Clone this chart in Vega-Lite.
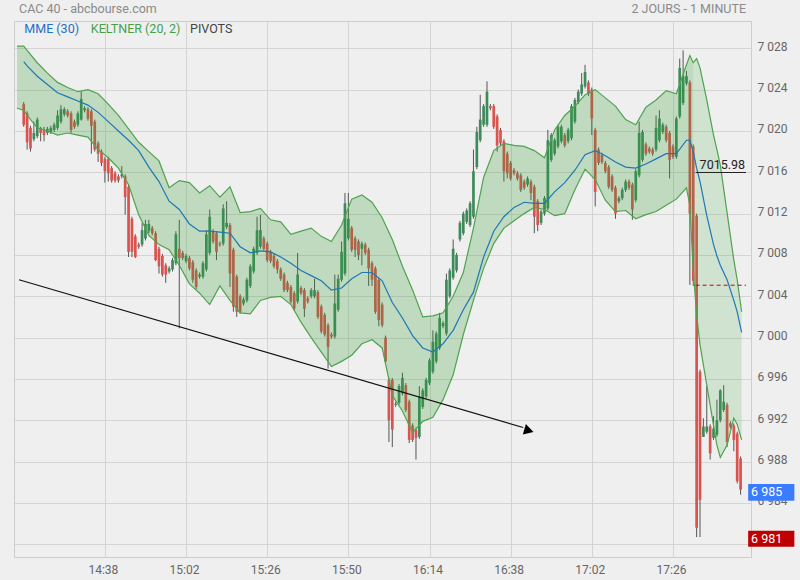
{
"$schema": "https://vega.github.io/schema/vega-lite/v6.json",
"width": 737, "height": 536,
"autosize": {"type": "none"},
"padding": {"left": 14, "top": 21, "right": 49, "bottom": 23},
"background": "#efefef",
"config": {"font": "Roboto", "view": {"stroke": "#cccccc", "strokeWidth": 1}},
"datasets": {
"candles": [
{"t":-24,"o":7022.6,"h":7022.8,"l":7020.4,"c":7020.6},
{"t":-23,"o":7021.7,"h":7021.9,"l":7018.2,"c":7018.9},
{"t":-22,"o":7020.3,"h":7020.5,"l":7018.0,"c":7018.3},
{"t":-21,"o":7019.2,"h":7020.9,"l":7019.0,"c":7019.8},
{"t":-20,"o":7019.5,"h":7021.3,"l":7019.3,"c":7021.1},
{"t":-19,"o":7020.3,"h":7020.4,"l":7019.0,"c":7019.8},
{"t":-18,"o":7020.1,"h":7020.4,"l":7019.0,"c":7019.6},
{"t":-17,"o":7019.8,"h":7020.4,"l":7019.6,"c":7020.2},
{"t":-16,"o":7019.9,"h":7020.5,"l":7019.7,"c":7020.3},
{"t":-15,"o":7020.1,"h":7020.8,"l":7019.9,"c":7020.6},
{"t":-14,"o":7020.3,"h":7022.0,"l":7020.1,"c":7021.5},
{"t":-13,"o":7020.9,"h":7022.5,"l":7020.7,"c":7022.1},
{"t":-12,"o":7021.6,"h":7022.3,"l":7021.4,"c":7022.1},
{"t":-11,"o":7021.9,"h":7022.1,"l":7021.3,"c":7021.5},
{"t":-10,"o":7021.7,"h":7021.9,"l":7019.8,"c":7020.1},
{"t":-9,"o":7020.9,"h":7021.1,"l":7020.2,"c":7020.4},
{"t":-8,"o":7020.6,"h":7021.9,"l":7020.4,"c":7021.7},
{"t":-7,"o":7021.1,"h":7023.8,"l":7021.0,"c":7023.1},
{"t":-6,"o":7022.0,"h":7022.4,"l":7021.8,"c":7022.2},
{"t":-5,"o":7022.1,"h":7022.3,"l":7021.0,"c":7021.2},
{"t":-4,"o":7021.9,"h":7022.1,"l":7017.8,"c":7020.5},
{"t":-3,"o":7020.9,"h":7021.1,"l":7018.0,"c":7018.2},
{"t":-2,"o":7018.8,"h":7019.0,"l":7017.0,"c":7017.8},
{"t":-1,"o":7018.0,"h":7018.2,"l":7016.6,"c":7016.9},
{"t":0,"o":7017.3,"h":7017.5,"l":7015.0,"c":7016.1},
{"t":1,"o":7017.3,"h":7017.5,"l":7015.1,"c":7015.9},
{"t":2,"o":7016.4,"h":7016.6,"l":7015.0,"c":7015.2},
{"t":3,"o":7015.9,"h":7016.1,"l":7015.0,"c":7015.2},
{"t":4,"o":7015.6,"h":7015.8,"l":7015.0,"c":7015.2},
{"t":5,"o":7015.6,"h":7016.6,"l":7015.4,"c":7015.8},
{"t":6,"o":7015.6,"h":7015.8,"l":7011.9,"c":7013.6},
{"t":7,"o":7014.6,"h":7014.8,"l":7007.8,"c":7008.3},
{"t":8,"o":7011.5,"h":7011.7,"l":7007.8,"c":7008.3},
{"t":9,"o":7009.8,"h":7010.0,"l":7007.7,"c":7007.8},
{"t":10,"o":7009.0,"h":7009.2,"l":7008.6,"c":7008.8},
{"t":11,"o":7009.0,"h":7011.1,"l":7008.8,"c":7010.4},
{"t":12,"o":7009.6,"h":7011.4,"l":7009.4,"c":7011.0},
{"t":13,"o":7010.3,"h":7011.4,"l":7010.1,"c":7011.0},
{"t":14,"o":7010.6,"h":7010.8,"l":7009.9,"c":7010.1},
{"t":15,"o":7010.1,"h":7010.3,"l":7007.4,"c":7007.5},
{"t":16,"o":7008.6,"h":7008.8,"l":7006.2,"c":7006.9},
{"t":17,"o":7007.9,"h":7008.1,"l":7005.9,"c":7006.1},
{"t":18,"o":7007.0,"h":7007.2,"l":7005.3,"c":7006.1},
{"t":19,"o":7006.4,"h":7006.9,"l":7006.2,"c":7006.7},
{"t":20,"o":7006.6,"h":7007.7,"l":7006.4,"c":7007.5},
{"t":21,"o":7007.2,"h":7010.3,"l":7007.0,"c":7010.0},
{"t":22,"o":7008.6,"h":7011.4,"l":7000.9,"c":7007.7},
{"t":23,"o":7008.2,"h":7008.4,"l":7007.5,"c":7007.7},
{"t":24,"o":7007.4,"h":7008.1,"l":7007.2,"c":7007.9},
{"t":25,"o":7007.7,"h":7007.9,"l":7006.5,"c":7006.7},
{"t":26,"o":7007.3,"h":7007.5,"l":7005.3,"c":7005.6},
{"t":27,"o":7006.5,"h":7006.7,"l":7004.7,"c":7004.9},
{"t":28,"o":7005.9,"h":7006.3,"l":7005.7,"c":7006.1},
{"t":29,"o":7005.9,"h":7007.4,"l":7005.7,"c":7007.2},
{"t":30,"o":7006.6,"h":7010.4,"l":7006.4,"c":7010.0},
{"t":31,"o":7008.2,"h":7012.4,"l":7008.0,"c":7011.7},
{"t":32,"o":7010.3,"h":7010.5,"l":7009.1,"c":7009.3},
{"t":33,"o":7010.1,"h":7010.3,"l":7007.5,"c":7008.3},
{"t":34,"o":7009.1,"h":7009.3,"l":7008.8,"c":7009.0},
{"t":35,"o":7009.1,"h":7012.9,"l":7008.9,"c":7012.5},
{"t":36,"o":7010.7,"h":7013.2,"l":7010.5,"c":7011.1},
{"t":37,"o":7010.9,"h":7011.1,"l":7004.9,"c":7006.2},
{"t":38,"o":7008.5,"h":7008.7,"l":7002.5,"c":7003.0},
{"t":39,"o":7005.9,"h":7006.1,"l":7002.0,"c":7002.5},
{"t":40,"o":7004.0,"h":7004.2,"l":7002.3,"c":7002.5},
{"t":41,"o":7003.3,"h":7003.9,"l":7003.1,"c":7003.7},
{"t":42,"o":7003.6,"h":7005.8,"l":7003.4,"c":7005.6},
{"t":43,"o":7005.0,"h":7007.1,"l":7004.8,"c":7006.9},
{"t":44,"o":7006.4,"h":7008.8,"l":7006.2,"c":7008.6},
{"t":45,"o":7008.2,"h":7011.7,"l":7008.0,"c":7010.4},
{"t":46,"o":7008.8,"h":7011.9,"l":7008.6,"c":7010.4},
{"t":47,"o":7009.6,"h":7009.8,"l":7008.4,"c":7008.6},
{"t":48,"o":7009.1,"h":7009.3,"l":7007.3,"c":7007.5},
{"t":49,"o":7008.3,"h":7008.5,"l":7007.2,"c":7007.4},
{"t":50,"o":7007.9,"h":7008.1,"l":7006.7,"c":7006.9},
{"t":51,"o":7007.4,"h":7007.6,"l":7006.2,"c":7006.6},
{"t":52,"o":7006.6,"h":7006.8,"l":7005.5,"c":7005.7},
{"t":53,"o":7006.1,"h":7006.3,"l":7004.4,"c":7004.6},
{"t":54,"o":7005.3,"h":7005.5,"l":7004.4,"c":7004.6},
{"t":55,"o":7004.9,"h":7005.1,"l":7003.3,"c":7003.5},
{"t":56,"o":7004.3,"h":7004.5,"l":7002.6,"c":7002.8},
{"t":57,"o":7003.5,"h":7008.2,"l":7003.3,"c":7006.1},
{"t":58,"o":7004.8,"h":7005.0,"l":7004.1,"c":7004.3},
{"t":59,"o":7004.6,"h":7004.8,"l":7002.0,"c":7002.8},
{"t":60,"o":7003.8,"h":7004.0,"l":7003.3,"c":7003.5},
{"t":61,"o":7004.0,"h":7004.8,"l":7003.8,"c":7004.6},
{"t":62,"o":7004.0,"h":7005.7,"l":7003.8,"c":7004.6},
{"t":63,"o":7004.4,"h":7004.6,"l":7001.8,"c":7002.0},
{"t":64,"o":7003.0,"h":7003.2,"l":7000.4,"c":7000.6},
{"t":65,"o":7002.2,"h":7002.4,"l":7000.1,"c":7000.3},
{"t":66,"o":7001.2,"h":7001.4,"l":6997.0,"c":6999.1},
{"t":67,"o":7000.3,"h":7000.5,"l":6999.9,"c":7000.1},
{"t":68,"o":7000.1,"h":7006.1,"l":6999.9,"c":7003.3},
{"t":69,"o":7002.7,"h":7006.1,"l":7002.5,"c":7005.7},
{"t":70,"o":7005.6,"h":7009.3,"l":7005.4,"c":7008.3},
{"t":71,"o":7006.2,"h":7014.0,"l":7006.0,"c":7013.0},
{"t":72,"o":7009.6,"h":7014.0,"l":7009.4,"c":7011.5},
{"t":73,"o":7010.6,"h":7010.8,"l":7008.3,"c":7008.5},
{"t":74,"o":7009.6,"h":7009.8,"l":7007.8,"c":7008.5},
{"t":75,"o":7009.3,"h":7009.5,"l":7007.5,"c":7008.0},
{"t":76,"o":7008.6,"h":7009.3,"l":7007.0,"c":7009.1},
{"t":77,"o":7009.0,"h":7009.2,"l":7008.0,"c":7008.2},
{"t":78,"o":7008.5,"h":7008.7,"l":7005.0,"c":7006.7},
{"t":79,"o":7007.2,"h":7007.4,"l":7005.0,"c":7005.6},
{"t":80,"o":7006.7,"h":7006.9,"l":7002.3,"c":7002.5},
{"t":81,"o":7005.6,"h":7005.8,"l":7001.1,"c":7001.7},
{"t":82,"o":7003.2,"h":7003.4,"l":7001.0,"c":7001.2},
{"t":83,"o":7000.0,"h":7000.2,"l":6997.5,"c":6997.7},
{"t":84,"o":6995.9,"h":6996.1,"l":6989.9,"c":6992.0},
{"t":85,"o":6995.9,"h":6996.1,"l":6989.4,"c":6991.1},
{"t":86,"o":6993.5,"h":6993.8,"l":6993.3,"c":6993.6},
{"t":87,"o":6993.7,"h":6995.5,"l":6993.5,"c":6995.3},
{"t":88,"o":6994.6,"h":6996.6,"l":6994.4,"c":6996.1},
{"t":89,"o":6995.4,"h":6995.6,"l":6992.8,"c":6993.0},
{"t":90,"o":6993.8,"h":6994.0,"l":6989.8,"c":6990.1},
{"t":91,"o":6991.5,"h":6991.7,"l":6989.9,"c":6990.1},
{"t":92,"o":6991.1,"h":6991.3,"l":6988.2,"c":6990.3},
{"t":93,"o":6990.4,"h":6995.3,"l":6990.2,"c":6994.3},
{"t":94,"o":6993.3,"h":6995.1,"l":6993.1,"c":6994.9},
{"t":95,"o":6994.3,"h":6996.1,"l":6994.1,"c":6995.9},
{"t":96,"o":6995.6,"h":6998.0,"l":6995.4,"c":6997.8},
{"t":97,"o":6996.7,"h":7000.7,"l":6996.5,"c":6999.6},
{"t":98,"o":6997.7,"h":7000.6,"l":6997.5,"c":7000.4},
{"t":99,"o":6999.0,"h":7002.4,"l":6998.8,"c":7001.9},
{"t":100,"o":7001.1,"h":7001.6,"l":7000.9,"c":7001.4},
{"t":101,"o":7000.4,"h":7006.2,"l":7000.2,"c":7005.6},
{"t":102,"o":7004.0,"h":7006.7,"l":7003.8,"c":7006.5},
{"t":103,"o":7005.8,"h":7009.5,"l":7005.6,"c":7008.6},
{"t":104,"o":7006.5,"h":7008.2,"l":7006.3,"c":7008.0},
{"t":105,"o":7009.5,"h":7011.3,"l":7009.3,"c":7011.1},
{"t":106,"o":7010.1,"h":7012.2,"l":7009.9,"c":7012.0},
{"t":107,"o":7011.2,"h":7012.5,"l":7011.0,"c":7012.3},
{"t":108,"o":7010.9,"h":7013.2,"l":7010.7,"c":7013.0},
{"t":109,"o":7011.7,"h":7018.2,"l":7011.5,"c":7016.1},
{"t":110,"o":7016.5,"h":7020.4,"l":7016.3,"c":7019.9},
{"t":111,"o":7019.1,"h":7023.5,"l":7018.9,"c":7021.1},
{"t":112,"o":7020.6,"h":7022.6,"l":7020.4,"c":7022.4},
{"t":113,"o":7020.6,"h":7024.8,"l":7020.4,"c":7023.8},
{"t":114,"o":7022.4,"h":7022.6,"l":7022.0,"c":7022.2},
{"t":115,"o":7022.4,"h":7022.6,"l":7020.2,"c":7020.4},
{"t":116,"o":7021.4,"h":7021.6,"l":7018.0,"c":7018.6},
{"t":117,"o":7020.1,"h":7020.3,"l":7018.6,"c":7018.8},
{"t":118,"o":7019.0,"h":7019.2,"l":7015.1,"c":7016.1},
{"t":119,"o":7017.8,"h":7018.0,"l":7015.4,"c":7015.9},
{"t":120,"o":7016.9,"h":7017.1,"l":7015.2,"c":7015.4},
{"t":121,"o":7016.2,"h":7016.4,"l":7015.7,"c":7015.9},
{"t":122,"o":7015.9,"h":7016.1,"l":7015.2,"c":7015.4},
{"t":123,"o":7015.7,"h":7015.9,"l":7014.1,"c":7014.3},
{"t":124,"o":7015.1,"h":7015.3,"l":7014.3,"c":7014.5},
{"t":125,"o":7014.8,"h":7015.6,"l":7014.6,"c":7015.4},
{"t":126,"o":7015.1,"h":7015.3,"l":7013.3,"c":7014.0},
{"t":127,"o":7014.6,"h":7014.8,"l":7010.1,"c":7011.7},
{"t":128,"o":7013.2,"h":7013.4,"l":7010.3,"c":7010.9},
{"t":129,"o":7011.1,"h":7012.4,"l":7010.9,"c":7012.2},
{"t":130,"o":7012.0,"h":7013.7,"l":7011.8,"c":7013.5},
{"t":131,"o":7012.5,"h":7020.1,"l":7012.3,"c":7019.1},
{"t":132,"o":7017.2,"h":7019.8,"l":7017.0,"c":7019.6},
{"t":133,"o":7017.8,"h":7019.3,"l":7017.6,"c":7019.1},
{"t":134,"o":7018.5,"h":7020.6,"l":7018.3,"c":7020.4},
{"t":135,"o":7019.0,"h":7020.6,"l":7018.8,"c":7020.4},
{"t":136,"o":7019.6,"h":7019.8,"l":7018.4,"c":7018.6},
{"t":137,"o":7019.0,"h":7020.3,"l":7018.8,"c":7020.1},
{"t":138,"o":7019.3,"h":7022.6,"l":7019.1,"c":7022.4},
{"t":139,"o":7020.9,"h":7023.2,"l":7020.7,"c":7023.0},
{"t":140,"o":7022.8,"h":7024.0,"l":7022.6,"c":7023.8},
{"t":141,"o":7023.6,"h":7025.6,"l":7023.4,"c":7024.5},
{"t":142,"o":7024.3,"h":7026.4,"l":7024.1,"c":7025.7},
{"t":143,"o":7024.7,"h":7024.9,"l":7023.4,"c":7023.6},
{"t":144,"o":7024.0,"h":7024.2,"l":7019.6,"c":7021.2},
{"t":145,"o":7020.1,"h":7020.3,"l":7012.7,"c":7014.1},
{"t":146,"o":7018.2,"h":7018.4,"l":7016.7,"c":7016.9},
{"t":147,"o":7017.7,"h":7017.9,"l":7016.8,"c":7017.0},
{"t":148,"o":7016.9,"h":7017.1,"l":7015.9,"c":7016.1},
{"t":149,"o":7016.5,"h":7016.7,"l":7014.4,"c":7014.6},
{"t":150,"o":7015.6,"h":7015.8,"l":7014.1,"c":7014.3},
{"t":151,"o":7014.5,"h":7014.7,"l":7011.5,"c":7012.0},
{"t":152,"o":7013.2,"h":7013.7,"l":7013.0,"c":7013.5},
{"t":153,"o":7013.5,"h":7014.5,"l":7013.3,"c":7014.3},
{"t":154,"o":7014.3,"h":7015.3,"l":7014.1,"c":7015.1},
{"t":155,"o":7015.1,"h":7015.3,"l":7014.3,"c":7014.5},
{"t":156,"o":7014.8,"h":7015.0,"l":7011.4,"c":7012.4},
{"t":157,"o":7013.3,"h":7016.3,"l":7013.1,"c":7016.1},
{"t":158,"o":7015.7,"h":7020.9,"l":7015.5,"c":7019.8},
{"t":159,"o":7017.2,"h":7020.1,"l":7017.0,"c":7019.9},
{"t":160,"o":7018.7,"h":7018.9,"l":7017.6,"c":7017.8},
{"t":161,"o":7018.3,"h":7018.5,"l":7017.8,"c":7018.0},
{"t":162,"o":7018.2,"h":7018.4,"l":7017.6,"c":7017.8},
{"t":163,"o":7018.2,"h":7021.5,"l":7018.0,"c":7020.3},
{"t":164,"o":7019.1,"h":7022.0,"l":7018.9,"c":7021.2},
{"t":165,"o":7019.9,"h":7020.8,"l":7019.7,"c":7020.6},
{"t":166,"o":7020.4,"h":7020.6,"l":7018.9,"c":7019.1},
{"t":167,"o":7019.8,"h":7020.0,"l":7015.4,"c":7017.2},
{"t":168,"o":7018.5,"h":7018.7,"l":7017.3,"c":7017.5},
{"t":169,"o":7017.5,"h":7021.4,"l":7017.3,"c":7021.2},
{"t":170,"o":7021.4,"h":7027.0,"l":7021.2,"c":7026.1},
{"t":171,"o":7022.7,"h":7027.8,"l":7022.5,"c":7025.3},
{"t":172,"o":7024.6,"h":7025.8,"l":7024.4,"c":7025.3},
{"t":173,"o":7024.7,"h":7024.9,"l":7005.1,"c":7012.0},
{"t":174,"o":7018.5,"h":7018.7,"l":7005.0,"c":7005.5},
{"t":175,"o":7011.8,"h":7012.0,"l":6980.7,"c":6981.6},
{"t":176,"o":6996.7,"h":6996.9,"l":6980.7,"c":6984.3},
{"t":177,"o":6990.4,"h":6992.2,"l":6990.4,"c":6991.4},
{"t":178,"o":6990.9,"h":6995.3,"l":6990.7,"c":6991.4},
{"t":179,"o":6991.4,"h":6991.6,"l":6988.2,"c":6988.8},
{"t":180,"o":6990.3,"h":6992.4,"l":6990.1,"c":6991.2},
{"t":181,"o":6990.6,"h":6994.0,"l":6990.4,"c":6992.0},
{"t":182,"o":6992.0,"h":6995.0,"l":6991.8,"c":6994.9},
{"t":183,"o":6993.0,"h":6995.4,"l":6992.8,"c":6993.8},
{"t":184,"o":6993.5,"h":6993.7,"l":6989.4,"c":6989.9},
{"t":185,"o":6991.7,"h":6991.9,"l":6991.2,"c":6991.4},
{"t":186,"o":6991.5,"h":6991.7,"l":6989.0,"c":6990.1},
{"t":187,"o":6990.7,"h":6990.9,"l":6985.9,"c":6986.1},
{"t":188,"o":6988.3,"h":6988.5,"l":6984.8,"c":6985.3}
],
"band": [
{"t":-26,"up":7028.2,"lo":7022.2,"d":1},
{"t":-24,"up":7028.2,"lo":7022.0,"mme":7026.7,"d":1},
{"t":-23,"up":7027.8,"lo":7021.5,"mme":7026.3,"d":1},
{"t":-20,"up":7026.6,"lo":7020.3,"mme":7025.3,"d":1},
{"t":-17,"up":7025.6,"lo":7020.0,"mme":7024.5,"d":1},
{"t":-14,"up":7024.7,"lo":7019.6,"mme":7023.7,"d":1},
{"t":-11,"up":7024.2,"lo":7019.8,"mme":7023.3,"d":1},
{"t":-8,"up":7023.8,"lo":7019.6,"mme":7022.9,"d":1},
{"t":-5,"up":7024.0,"lo":7019.4,"mme":7022.5,"d":1},
{"t":-2,"up":7023.6,"lo":7018.2,"mme":7021.8,"d":1},
{"t":1,"up":7022.6,"lo":7017.4,"mme":7020.9,"d":1},
{"t":4,"up":7021.5,"lo":7016.4,"mme":7020.0,"d":1},
{"t":7,"up":7020.2,"lo":7014.8,"mme":7019.1,"d":1},
{"t":10,"up":7018.9,"lo":7011.9,"mme":7018.1,"d":1},
{"t":13,"up":7018.0,"lo":7009.9,"mme":7016.5,"d":1},
{"t":16,"up":7017.1,"lo":7009.0,"mme":7015.1,"d":1},
{"t":19,"up":7014.5,"lo":7008.5,"mme":7013.2,"d":1},
{"t":22,"up":7015.2,"lo":7007.0,"mme":7012.4,"d":1},
{"t":25,"up":7015.0,"lo":7005.2,"mme":7011.0,"d":1},
{"t":28,"up":7014.0,"lo":7004.3,"mme":7010.3,"d":1},
{"t":31,"up":7014.7,"lo":7003.2,"mme":7010.3,"d":1},
{"t":34,"up":7013.6,"lo":7005.0,"mme":7010.2,"d":1},
{"t":37,"up":7014.6,"lo":7003.6,"mme":7010.1,"d":1},
{"t":40,"up":7012.1,"lo":7002.4,"mme":7008.8,"d":1},
{"t":43,"up":7012.2,"lo":7002.3,"mme":7008.2,"d":1},
{"t":46,"up":7012.5,"lo":7003.6,"mme":7008.4,"d":1},
{"t":49,"up":7011.4,"lo":7003.9,"mme":7008.3,"d":1},
{"t":52,"up":7011.2,"lo":7004.0,"mme":7007.8,"d":1},
{"t":55,"up":7010.0,"lo":7003.2,"mme":7007.2,"d":1},
{"t":58,"up":7010.3,"lo":7001.5,"mme":7006.5,"d":1},
{"t":61,"up":7010.6,"lo":7000.0,"mme":7006.0,"d":1},
{"t":64,"up":7009.8,"lo":6998.6,"mme":7005.5,"d":1},
{"t":67,"up":7009.3,"lo":6997.2,"mme":7004.6,"d":1},
{"t":70,"up":7010.9,"lo":6997.7,"mme":7004.8,"d":1},
{"t":73,"up":7013.4,"lo":6998.3,"mme":7005.7,"d":1},
{"t":76,"up":7013.8,"lo":6999.4,"mme":7006.3,"d":1},
{"t":79,"up":7013.1,"lo":6999.8,"mme":7006.3,"d":1},
{"t":82,"up":7011.6,"lo":6999.0,"mme":7005.5,"d":1},
{"t":85,"up":7009.5,"lo":6994.4,"mme":7003.4,"d":1},
{"t":88,"up":7006.9,"lo":6992.9,"mme":7001.9,"d":1},
{"t":91,"up":7004.6,"lo":6990.8,"mme":7000.2,"d":1},
{"t":94,"up":7002.0,"lo":6991.9,"mme":6999.0,"d":1},
{"t":97,"up":7002.1,"lo":6992.3,"mme":6998.6,"d":1},
{"t":100,"up":7002.4,"lo":6994.0,"mme":6999.4,"d":1},
{"t":103,"up":7004.0,"lo":6996.4,"mme":7000.7,"d":1},
{"t":106,"up":7006.3,"lo":7000.3,"mme":7002.7,"d":1},
{"t":109,"up":7010.6,"lo":7003.6,"mme":7004.4,"d":1},
{"t":112,"up":7015.5,"lo":7006.7,"mme":7007.8,"d":1},
{"t":115,"up":7018.1,"lo":7009.1,"mme":7010.3,"d":1},
{"t":118,"up":7018.8,"lo":7010.6,"mme":7011.7,"d":1},
{"t":121,"up":7018.6,"lo":7011.3,"mme":7012.6,"d":1},
{"t":124,"up":7018.5,"lo":7012.0,"mme":7013.1,"d":1},
{"t":127,"up":7018.1,"lo":7012.6,"mme":7013.0,"d":1},
{"t":130,"up":7017.4,"lo":7012.4,"mme":7013.0,"d":1},
{"t":133,"up":7020.1,"lo":7011.8,"mme":7014.1,"d":1},
{"t":136,"up":7021.5,"lo":7012.0,"mme":7015.0,"d":1},
{"t":139,"up":7022.4,"lo":7014.3,"mme":7016.2,"d":1},
{"t":142,"up":7023.5,"lo":7016.3,"mme":7017.7,"d":1},
{"t":145,"up":7024.0,"lo":7015.3,"mme":7018.1,"d":1},
{"t":148,"up":7023.2,"lo":7013.3,"mme":7017.6,"d":1},
{"t":151,"up":7022.4,"lo":7012.2,"mme":7017.0,"d":1},
{"t":154,"up":7021.1,"lo":7012.3,"mme":7016.5,"d":1},
{"t":157,"up":7020.6,"lo":7011.5,"mme":7016.4,"d":1},
{"t":160,"up":7022.3,"lo":7011.9,"mme":7016.8,"d":1},
{"t":163,"up":7023.0,"lo":7012.2,"mme":7017.3,"d":1},
{"t":166,"up":7023.9,"lo":7012.8,"mme":7017.8,"d":1},
{"t":169,"up":7023.6,"lo":7013.4,"mme":7017.8,"d":1},
{"t":172,"up":7026.4,"lo":7014.5,"mme":7019.1,"d":1},
{"t":173,"up":7027.3,"lo":7012.8,"mme":7019.1,"d":1},
{"t":174,"up":7026.6,"lo":7006.5,"mme":7018.0,"d":1},
{"t":174,"up":7026.6,"lo":7006.5,"mme":7018.0,"d":2},
{"t":175,"up":7027.0,"lo":7002.2,"mme":7016.4,"d":2},
{"t":176,"up":7026.1,"lo":6999.3,"mme":7015.1,"d":2},
{"t":178,"up":7023.0,"lo":6995.4,"mme":7011.8,"d":2},
{"t":180,"up":7019.6,"lo":6991.5,"mme":7009.0,"d":2},
{"t":181,"up":7018.2,"lo":6989.6,"mme":7007.9,"d":2},
{"t":182,"up":7016.7,"lo":6988.4,"mme":7007.0,"d":2},
{"t":184,"up":7012.1,"lo":6989.6,"mme":7005.6,"d":2},
{"t":186,"up":7007.5,"lo":6992.2,"mme":7003.6,"d":2},
{"t":187,"up":7005.6,"lo":6991.6,"mme":7002.5,"d":2},
{"t":188.3,"up":7002.5,"lo":6990.1,"mme":7000.5,"d":2}
],
"trend": [{"t":-25.4,"v":7005.6},{"t":123.7,"v":6991.3}],
"arrow": [{"t":125.4,"v":6991.0}],
"pivots": [
{"t0":174.7,"t1":189.6,"p":7015.98,"kind":"close"},
{"t0":174.7,"t1":189.6,"p":7005.07,"kind":"pivot"}
]
},
"layer": [
{"data":{"name":"candles"},
 "mark":{"type":"rule","color":"#555555","strokeWidth":1,"clip":true},
 "encoding":{
  "x":{"field":"t","type":"quantitative","title":null,"scale":{"domain":[-25.4,189.6],"nice":false,"zero":false},
   "axis":{"orient":"bottom","values":[0,24,48,72,96,120,144,168],"labelExpr":"floor((878 + datum.value) / 60) + ':' + ((878 + datum.value) % 60 < 10 ? '0' : '') + ((878 + datum.value) % 60)","grid":true,"gridColor":"#d4d4d4","ticks":false,"domain":false,"labelColor":"#666666","labelFontSize":12,"labelFont":"Roboto","labelPadding":7,"labelFlush":false,"labelOverlap":false,"labelOffset":-2}},
  "y":{"field":"l","type":"quantitative","title":null,"scale":{"domain":[6978.77,7030.64],"nice":false,"zero":false},
   "axis":{"orient":"right","values":[6980,6984,6988,6992,6996,7000,7004,7008,7012,7016,7020,7024,7028],"labelExpr":"datum.value < 6982 ? '' : replace(format(datum.value, ','), ',', ' ')","grid":true,"gridColor":"#d4d4d4","ticks":false,"domain":false,"labelColor":"#666666","labelFontSize":12,"labelFont":"Roboto","labelPadding":6,"labelBaseline":"alphabetic","labelOffset":2}},
  "y2":{"field":"h"}}},
{"data":{"name":"candles"},
 "mark":{"type":"bar","size":2.7,"clip":true},
 "encoding":{
  "x":{"field":"t","type":"quantitative","title":null},
  "y":{"field":"o","type":"quantitative","title":null},
  "y2":{"field":"c"},
  "color":{"condition":{"test":"datum.c >= datum.o","value":"#3d8b5a"},"value":"#d9534f"}}},
{"data":{"name":"band"},
 "transform":[{"filter":"datum.d == 1"}],
 "mark":{"type":"area","color":"#2e9b2e","opacity":0.25,"clip":true},
 "encoding":{
  "x":{"field":"t","type":"quantitative","title":null},
  "y":{"field":"up","type":"quantitative","title":null},
  "y2":{"field":"lo"}}},
{"data":{"name":"band"},
 "transform":[{"filter":"datum.d == 2"}],
 "mark":{"type":"area","color":"#3aa63a","opacity":0.17,"clip":true},
 "encoding":{
  "x":{"field":"t","type":"quantitative","title":null},
  "y":{"field":"up","type":"quantitative","title":null},
  "y2":{"field":"lo"}}},
{"data":{"name":"band"},
 "mark":{"type":"line","color":"#4fa34f","strokeWidth":1.2,"clip":true},
 "encoding":{
  "x":{"field":"t","type":"quantitative","title":null},
  "y":{"field":"up","type":"quantitative","title":null}}},
{"data":{"name":"band"},
 "mark":{"type":"line","color":"#4fa34f","strokeWidth":1.2,"clip":true},
 "encoding":{
  "x":{"field":"t","type":"quantitative","title":null},
  "y":{"field":"lo","type":"quantitative","title":null}}},
{"data":{"name":"band"},
 "transform":[{"filter":"isValid(datum.mme)"}],
 "mark":{"type":"line","color":"#1f77b4","strokeWidth":1.2,"clip":true},
 "encoding":{
  "x":{"field":"t","type":"quantitative","title":null},
  "y":{"field":"mme","type":"quantitative","title":null}}},
{"data":{"name":"trend"},
 "mark":{"type":"line","color":"#111111","strokeWidth":1.2,"clip":true},
 "encoding":{
  "x":{"field":"t","type":"quantitative","title":null},
  "y":{"field":"v","type":"quantitative","title":null}}},
{"data":{"name":"arrow"},
 "mark":{"type":"point","shape":"triangle-right","angle":16,"filled":true,"color":"#000000","size":120,"opacity":1},
 "encoding":{
  "x":{"field":"t","type":"quantitative","title":null},
  "y":{"field":"v","type":"quantitative","title":null}}},
{"data":{"name":"pivots"},
 "transform":[{"filter":"datum.kind == 'close'"}],
 "mark":{"type":"rule","color":"#222222","strokeWidth":1},
 "encoding":{
  "x":{"field":"t0","type":"quantitative","title":null},
  "x2":{"field":"t1"},
  "y":{"field":"p","type":"quantitative","title":null}}},
{"data":{"name":"pivots"},
 "transform":[{"filter":"datum.kind == 'pivot'"}],
 "mark":{"type":"rule","color":"#cc0000","strokeWidth":1,"strokeDash":[4,3]},
 "encoding":{
  "x":{"field":"t0","type":"quantitative","title":null},
  "x2":{"field":"t1"},
  "y":{"field":"p","type":"quantitative","title":null}}},
{"data":{"name":"pivots"},
 "transform":[{"filter":"datum.kind == 'close'"}],
 "mark":{"type":"text","align":"left","baseline":"alphabetic","dx":4,"dy":-3,"fontSize":12.5,"color":"#222222","font":"Roboto"},
 "encoding":{
  "x":{"field":"t0","type":"quantitative","title":null},
  "y":{"field":"p","type":"quantitative","title":null},
  "text":{"field":"p","type":"quantitative","format":".2f"}}},
{"data":{"values":[{"label":"6 985"}]},
 "mark":{"type":"rect","color":"#3b7cff","clip":false},
 "encoding":{
  "x":{"datum":190.24,"type":"quantitative","title":null},
  "x2":{"datum":203.9},
  "y":{"datum":6985.84,"type":"quantitative","title":null},
  "y2":{"datum":6984.22}}},
{"data":{"values":[{"label":"6 981"}]},
 "mark":{"type":"rect","color":"#c00000","clip":false},
 "encoding":{
  "x":{"datum":190.24,"type":"quantitative","title":null},
  "x2":{"datum":203.9},
  "y":{"datum":6981.32,"type":"quantitative","title":null},
  "y2":{"datum":6979.77}}},
{"data":{"values":[{"label":"6 985"}]},
 "mark":{"type":"text","align":"left","baseline":"middle","fontSize":12.5,"color":"#ffffff","font":"Roboto"},
 "encoding":{
  "x":{"datum":191.1,"type":"quantitative","title":null},
  "y":{"datum":6985.03,"type":"quantitative","title":null},
  "text":{"field":"label"}}},
{"data":{"values":[{"label":"6 981"}]},
 "mark":{"type":"text","align":"left","baseline":"middle","fontSize":12.5,"color":"#ffffff","font":"Roboto"},
 "encoding":{
  "x":{"datum":191.1,"type":"quantitative","title":null},
  "y":{"datum":6980.54,"type":"quantitative","title":null},
  "text":{"field":"label"}}},
{"data":{"values":[{"label":"CAC 40 - abcbourse.com"}]},
 "mark":{"type":"text","align":"left","baseline":"alphabetic","fontSize":12.5,"color":"#8a8a8a","font":"Roboto"},
 "encoding":{
  "x":{"datum":-25.4,"type":"quantitative","title":null},
  "y":{"datum":7031.42,"type":"quantitative","title":null},
  "text":{"field":"label"}}},
{"data":{"values":[{"label":"2 JOURS - 1 MINUTE"}]},
 "mark":{"type":"text","align":"right","baseline":"alphabetic","fontSize":12.5,"color":"#8a8a8a","font":"Roboto"},
 "encoding":{
  "x":{"datum":189.6,"type":"quantitative","title":null},
  "y":{"datum":7031.42,"type":"quantitative","title":null},
  "text":{"field":"label"}}},
{"data":{"values":[{"label":"MME (30)"}]},
 "mark":{"type":"text","align":"left","baseline":"alphabetic","fontSize":12.5,"color":"#1f6fc8","font":"Roboto"},
 "encoding":{
  "x":{"datum":-23.83,"type":"quantitative","title":null},
  "y":{"datum":7029.51,"type":"quantitative","title":null},
  "text":{"field":"label"}}},
{"data":{"values":[{"label":"KELTNER (20, 2)"}]},
 "mark":{"type":"text","align":"left","baseline":"alphabetic","fontSize":12.5,"color":"#47a047","font":"Roboto"},
 "encoding":{
  "x":{"datum":-4.17,"type":"quantitative","title":null},
  "y":{"datum":7029.51,"type":"quantitative","title":null},
  "text":{"field":"label"}}},
{"data":{"values":[{"label":"PIVOTS"}]},
 "mark":{"type":"text","align":"left","baseline":"alphabetic","fontSize":12.5,"color":"#444444","font":"Roboto"},
 "encoding":{
  "x":{"datum":25.17,"type":"quantitative","title":null},
  "y":{"datum":7029.51,"type":"quantitative","title":null},
  "text":{"field":"label"}}}
]
}
